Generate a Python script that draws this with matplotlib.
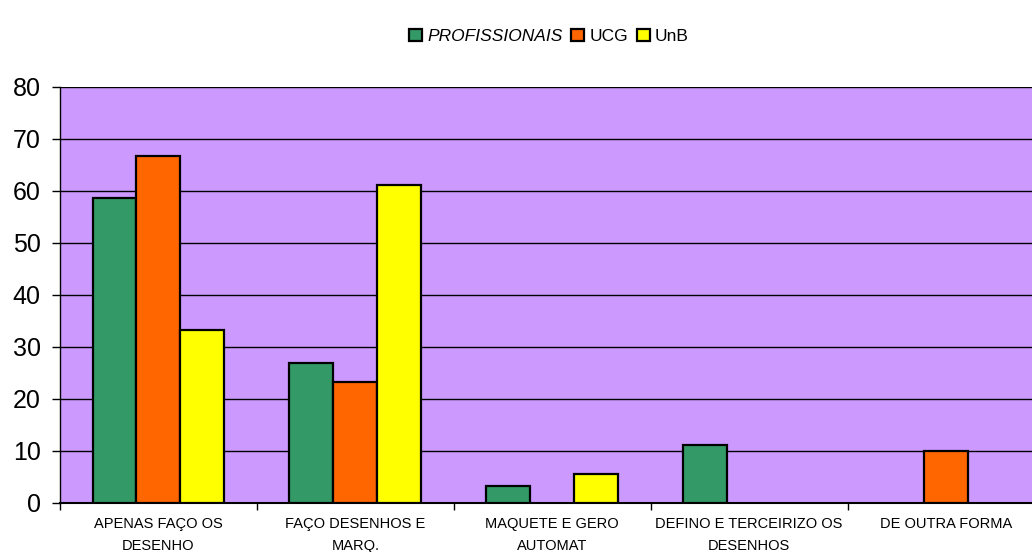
import numpy as np
import matplotlib
matplotlib.use("Agg")
import matplotlib.pyplot as plt
from matplotlib.patches import Patch

categories = ["APENAS FAÇO OS\nDESENHO", "FAÇO DESENHOS E\nMARQ.", "MAQUETE E GERO\nAUTOMAT",
              "DEFINO E TERCEIRIZO OS\nDESENHOS", "DE OUTRA FORMA"]
series_names = ["PROFISSIONAIS", "UCG", "UnB"]
profissionais = [58.7, 26.9, 3.3, 11.1, 0]
ucg = [66.7, 23.3, 0, 0, 10.0]
unb = [33.3, 61.1, 5.6, 0, 0]
colors = ["#339966", "#FF6600", "#FFFF00"]
yticks = [0, 10, 20, 30, 40, 50, 60, 70, 80]

plt.rcParams['font.family'] = ['Liberation Sans', 'DejaVu Sans']

W, H = 1032, 552
fig = plt.figure(figsize=(W / 100, H / 100), dpi=100)
left, right, top, bottom = 60, 1044.5, 87, 503
ax = fig.add_axes([left / W, 1 - bottom / H, (right - left) / W, (bottom - top) / H])
ax.set_facecolor("#CC99FF")

x = np.arange(len(categories))
bw = 0.223
for i, (vals, c) in enumerate(zip([profissionais, ucg, unb], colors)):
    v = np.array(vals, dtype=float)
    v[v == 0] = np.nan
    ax.bar(x + (i - 1) * bw, v, bw, color=c, edgecolor="black", linewidth=1.6, zorder=3)

ax.set_xlim(-0.5, len(categories) - 0.5)
ax.set_ylim(0, 80)
ax.set_yticks(yticks)
ax.yaxis.grid(True, color="black", linewidth=1.0, zorder=0)
ax.set_axisbelow(True)
for s in ["top", "right"]:
    ax.spines[s].set_visible(False)
ax.spines["left"].set_linewidth(1.0)
ax.spines["bottom"].set_linewidth(1.5)

ax.tick_params(axis="y", length=6, width=1, pad=8, labelsize=18)
ax.set_xticks(x)
ax.set_xticklabels(categories, fontsize=10.5, linespacing=1.7)
ax.tick_params(axis="x", which="major", length=0, pad=10)
ax.set_xticks(np.arange(-0.5, len(categories), 1.0), minor=True)
ax.tick_params(axis="x", which="minor", length=5, width=1)

handles = [Patch(facecolor=c, edgecolor="black", linewidth=1.6) for c in colors]
leg = fig.legend(handles, series_names, loc="center", bbox_to_anchor=(0.532, 0.934),
                 ncol=3, frameon=False, fontsize=12.5, handlelength=0.75, handleheight=0.75,
                 handletextpad=0.3, columnspacing=0.5)
leg.get_texts()[0].set_style("italic")

fig.savefig("out.png", dpi=100)
